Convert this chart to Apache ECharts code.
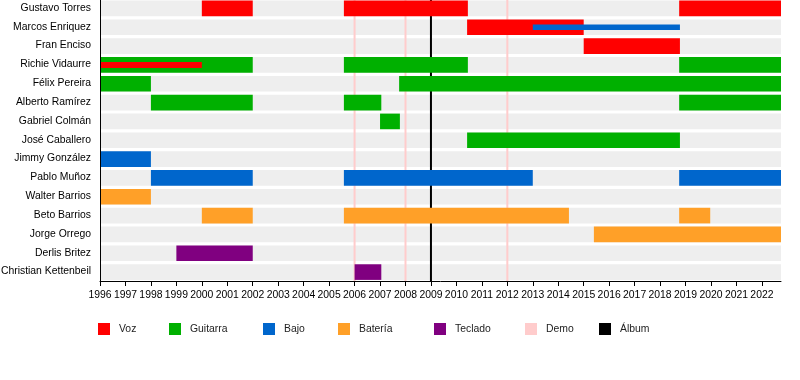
<!DOCTYPE html>
<html>
<head>
<meta charset="utf-8">
<script src="https://cdn.jsdelivr.net/npm/echarts@6/dist/echarts.min.js"></script>
<style>html,body{margin:0;padding:0;background:#fff}#c{width:800px;height:380px}</style>
</head>
<body>
<div id="c"></div>
<script>
const members = ['Gustavo Torres','Marcos Enriquez','Fran Enciso','Richie Vidaurre','Félix Pereira','Alberto Ramírez','Gabriel Colmán','José Caballero','Jimmy González','Pablo Muñoz','Walter Barrios','Beto Barrios','Jorge Orrego','Derlis Britez','Christian Kettenbeil'];
const startYear = 1996;
const endDate = 2022.75;
const years = [1996,1997,1998,1999,2000,2001,2002,2003,2004,2005,2006,2007,2008,2009,2010,2011,2012,2013,2014,2015,2016,2017,2018,2019,2020,2021,2022];
// [row, start, end]
const voz = [[0,2000,2002],[0,2005.58,2010.45],[0,2018.75,2022.75],[1,2010.42,2015.0],[2,2015.0,2018.78]];
const vozSecondary = [[3,1996,2000]];
const guitarra = [[3,1996,2002],[3,2005.58,2010.45],[3,2018.75,2022.75],[4,1996,1998],[4,2007.75,2022.75],[5,1998,2002],[5,2005.58,2007.05],[5,2018.75,2022.75],[6,2007.0,2007.78],[7,2010.42,2018.78]];
const bajo = [[8,1996,1998],[9,1998,2002],[9,2005.58,2013.0],[9,2018.75,2022.75]];
const bajoSecondary = [[1,2013.0,2018.78]];
const bateria = [[10,1996,1998],[11,2000,2002],[11,2005.58,2014.42],[11,2018.75,2019.97],[12,2015.4,2022.75]];
const teclado = [[13,1999,2002],[14,2006,2007.05]];
const demos = [2006,2008,2012];
const albums = [2009];

const COLORS = {Voz:'#ff0000',Guitarra:'#00b000',Bajo:'#0066cc',Bateria:'#ffa028',Teclado:'#800080',Demo:'#ffcccc',Album:'#000000',bg:'#eeeeee'};
const FONT = 'Liberation Sans, Arial, sans-serif';
const FS = 10.4;

function barRender(frac){
  return function(params, api){
    const row = api.value(0), s = api.value(1), e = api.value(2);
    const p0 = api.coord([s,row]), p1 = api.coord([e,row]);
    const h = api.size([0,1])[1]*frac;
    const cs = params.coordSys;
    const shape = echarts.graphic.clipRectByRect(
      {x:p0[0], y:p0[1]-h/2+0.5, width:p1[0]-p0[0], height:h},
      {x:cs.x, y:cs.y, width:cs.width, height:cs.height});
    return shape && {type:'rect', shape:shape, style:{fill:api.visual('color')}};
  };
}
function lineRender(w){
  return function(params, api){
    const cs = params.coordSys;
    const x = api.coord([api.value(0), 0])[0];
    return {type:'rect', shape:{x:x-w/2, y:cs.y, width:w, height:cs.height}, style:{fill:api.visual('color')}};
  };
}
function barSeries(name, data, color, frac){
  return {type:'custom', name:name, renderItem:barRender(frac), data:data, encode:{x:[1,2], y:0}, itemStyle:{color:color}, clip:true};
}
const bgData = members.map((m,i)=>[i,startYear,endDate]);

const series = [
  {type:'custom', name:'bg', renderItem:barRender(0.83), data:bgData, encode:{x:[1,2],y:0}, itemStyle:{color:COLORS.bg}, silent:true},
  {type:'custom', name:'Demo', renderItem:lineRender(2), data:demos.map(v=>[v]), encode:{x:0}, itemStyle:{color:COLORS.Demo}},
  {type:'custom', name:'Álbum', renderItem:lineRender(2), data:albums.map(v=>[v]), encode:{x:0}, itemStyle:{color:COLORS.Album}},
  barSeries('Voz', voz, COLORS.Voz, 0.83),
  barSeries('Guitarra', guitarra, COLORS.Guitarra, 0.83),
  barSeries('Bajo', bajo, COLORS.Bajo, 0.83),
  barSeries('Batería', bateria, COLORS.Bateria, 0.83),
  barSeries('Teclado', teclado, COLORS.Teclado, 0.83),
  barSeries('Voz', vozSecondary, COLORS.Voz, 0.32),
  barSeries('Bajo', bajoSecondary, COLORS.Bajo, 0.3)
];

const legendItems = [['Voz',98],['Guitarra',169],['Bajo',263],['Batería',338],['Teclado',434],['Demo',525],['Álbum',599]];
const legends = legendItems.map(([n,x])=>({
  data:[n], left:x, top:323, padding:0, itemWidth:12, itemHeight:12, icon:'rect', selectedMode:false,
  textStyle:{fontFamily:FONT, fontSize:FS, color:'#222', padding:[0,0,0,4]}
}));

const chart = echarts.init(document.getElementById('c'), null, {renderer:'canvas'});
chart.setOption({
  animation:false,
  backgroundColor:'#fff',
  grid:{left:100, top:-1.5, width:681, height:282.5, containLabel:false, outerBoundsMode:'none'},
  xAxis:{type:'value', min:startYear, max:endDate, z:10,
    axisLine:{show:true, onZero:false, lineStyle:{color:'#000', width:1}},
    axisTick:{show:true, length:5, lineStyle:{color:'#000'}, customValues:years},
    axisLabel:{customValues:years, fontFamily:FONT, fontSize:FS, color:'#000', margin:9, formatter:v=>String(v)},
    splitLine:{show:false}},
  yAxis:{type:'category', data:members, inverse:true, z:10,
    axisLine:{show:true, lineStyle:{color:'#000', width:1}},
    axisTick:{show:false},
    axisLabel:{fontFamily:FONT, fontSize:FS, color:'#000', margin:9},
    splitLine:{show:false}},
  legend:legends,
  series:series
});
</script>
</body>
</html>
